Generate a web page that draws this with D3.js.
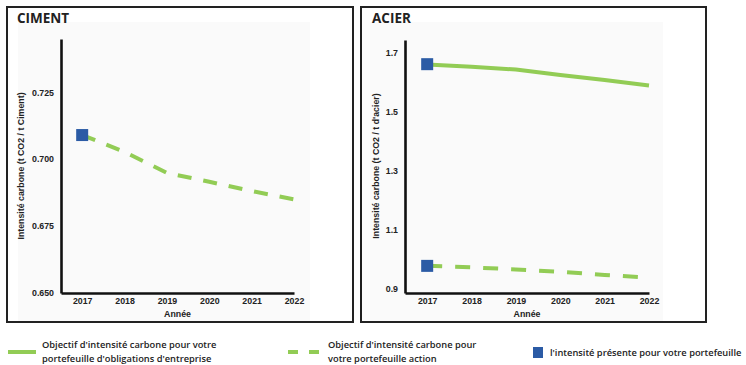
<!DOCTYPE html>
<html lang="fr">
<head>
<meta charset="utf-8">
<script src="https://cdn.jsdelivr.net/npm/d3@7"></script>
<style>
  html, body { margin: 0; padding: 0; background: #fff; }
  svg { display: block; }
  .tick text { font-family: "Liberation Sans", Arial, sans-serif; font-weight: bold; font-size: 8.8px; fill: #222; }
  .axis-title { font-family: "Liberation Sans", Arial, sans-serif; font-weight: bold; font-size: 8.8px; fill: #222; }
  .panel-title { font-family: "Open Sans", sans-serif; font-weight: 700; font-size: 13.5px; fill: #222; }
  .legend-text { font-family: "Open Sans", sans-serif; font-weight: 600; font-size: 9.3px; fill: #222; }
</style>
</head>
<body>
<svg id="chart" width="746" height="365"></svg>
<script>
// Years on the horizontal axis
const years = [2017, 2018, 2019, 2020, 2021, 2022];

// Cement: equity portfolio target trajectory and current intensity
const cimentActionTarget = [0.709, 0.7027, 0.6948, 0.6915, 0.688, 0.6849];
const cimentPresent = [0.709];
const cimentTicks = [0.650, 0.675, 0.700, 0.725];

// Steel: corporate-bond and equity target trajectories, current intensities
const acierObligationsTarget = [1.659, 1.651, 1.642, 1.623, 1.606, 1.588];
const acierActionTarget = [0.976, 0.971, 0.964, 0.956, 0.945, 0.936];
const acierPresent = [1.66, 0.976];
const acierTicks = [0.9, 1.1, 1.3, 1.5, 1.7];

// Legend labels
const legendObligations = ["Objectif d'intensité carbone pour votre", "portefeuille d'obligations d'entreprise"];
const legendAction = ["Objectif d'intensité carbone pour", "votre portefeuille action"];
const legendPresent = ["l'intensité présente pour votre portefeuille"];

const GREEN = "#92cc55";
const BLUE = "#2b5ba5";

const svg = d3.select("#chart");

function panel(cfg) {
  const g = svg.append("g");

  // frame and faint plot background
  g.append("rect")
    .attr("x", cfg.box[0]).attr("y", cfg.box[1])
    .attr("width", cfg.box[2]).attr("height", cfg.box[3])
    .attr("fill", "#fff").attr("stroke", "#222").attr("stroke-width", 2);
  g.append("rect")
    .attr("x", cfg.bg[0]).attr("y", cfg.bg[1])
    .attr("width", cfg.bg[2]).attr("height", cfg.bg[3])
    .attr("fill", "#fafafa");

  g.append("text").attr("class", "panel-title")
    .attr("x", cfg.titlePos[0]).attr("y", cfg.titlePos[1])
    .text(cfg.title);

  const x = d3.scaleLinear().domain([2016.5, 2022]).range(cfg.xRange);
  const y = d3.scaleLinear().domain(cfg.yDomain).range(cfg.yRange);

  const yAxis = g.append("g")
    .attr("transform", `translate(${cfg.xRange[0]},0)`)
    .call(d3.axisLeft(y).tickValues(cfg.ticks).tickFormat(d3.format(cfg.fmt))
      .tickSize(0).tickSizeOuter(0).tickPadding(7));
  const xAxis = g.append("g")
    .attr("transform", `translate(0,${cfg.yRange[0]})`)
    .call(d3.axisBottom(x).tickValues(years).tickFormat(d3.format("d"))
      .tickSize(0).tickSizeOuter(0).tickPadding(5));
  [yAxis, xAxis].forEach(a => a.select(".domain")
    .attr("stroke", "#111").attr("stroke-width", 2.6));

  g.append("text").attr("class", "axis-title")
    .attr("text-anchor", "middle")
    .attr("transform", `translate(${cfg.yTitlePos[0]},${cfg.yTitlePos[1]}) rotate(-90)`)
    .attr("dy", "0.35em")
    .text(cfg.yTitle);
  g.append("text").attr("class", "axis-title")
    .attr("text-anchor", "middle")
    .attr("x", (cfg.xRange[0] + cfg.xRange[1]) / 2).attr("y", 317)
    .text("Année");

  const line = d3.line().x((d, i) => x(years[i])).y(d => y(d));
  cfg.series.forEach(s => {
    g.append("path").datum(s.values)
      .attr("d", line)
      .attr("fill", "none")
      .attr("stroke", GREEN)
      .attr("stroke-width", 4)
      .attr("stroke-dasharray", s.dashed ? cfg.dash : null);
  });

  g.selectAll("rect.present").data(cfg.present).join("rect")
    .attr("class", "present")
    .attr("x", x(years[0]) - 6).attr("y", d => y(d) - 6)
    .attr("width", 12).attr("height", 12)
    .attr("fill", BLUE);
}

panel({
  box: [7, 7, 346, 315], bg: [18, 22, 292, 299],
  title: "CIMENT", titlePos: [17, 23],
  xRange: [61, 294], yRange: [293, 39], yDomain: [0.6498, 0.745],
  ticks: cimentTicks, fmt: ".3f",
  yTitle: "Intensité carbone (t CO2 / t Ciment)", yTitlePos: [21, 166],
  series: [{ values: cimentActionTarget, dashed: true }],
  present: cimentPresent, dash: "14,12"
});

panel({
  box: [361, 7, 345, 315], bg: [370, 22, 293, 299],
  title: "ACIER", titlePos: [372, 23],
  xRange: [405, 649], yRange: [293, 40], yDomain: [0.884, 1.742],
  ticks: acierTicks, fmt: ".1f",
  yTitle: "Intensité carbone (t CO2 / t d'acier)", yTitlePos: [376, 166],
  series: [{ values: acierObligationsTarget, dashed: false }, { values: acierActionTarget, dashed: true }],
  present: acierPresent, dash: "15,13"
});

// Legend
const lg = svg.append("g");
lg.append("line").attr("x1", 8).attr("x2", 36).attr("y1", 352).attr("y2", 352)
  .attr("stroke", GREEN).attr("stroke-width", 4);
lg.append("text").attr("class", "legend-text").attr("x", 42).attr("y", 348)
  .selectAll("tspan").data(legendObligations).join("tspan")
  .attr("x", 42).attr("dy", (d, i) => i ? 14 : 0).text(d => d);

lg.append("line").attr("x1", 288).attr("x2", 319).attr("y1", 352).attr("y2", 352)
  .attr("stroke", GREEN).attr("stroke-width", 4).attr("stroke-dasharray", "10,11");
lg.append("text").attr("class", "legend-text").attr("x", 328).attr("y", 348)
  .selectAll("tspan").data(legendAction).join("tspan")
  .attr("x", 328).attr("dy", (d, i) => i ? 14 : 0).text(d => d);

lg.append("rect").attr("x", 533).attr("y", 347).attr("width", 10).attr("height", 11)
  .attr("fill", BLUE);
lg.append("text").attr("class", "legend-text").attr("x", 550).attr("y", 356)
  .text(legendPresent[0]);
</script>
</body>
</html>
